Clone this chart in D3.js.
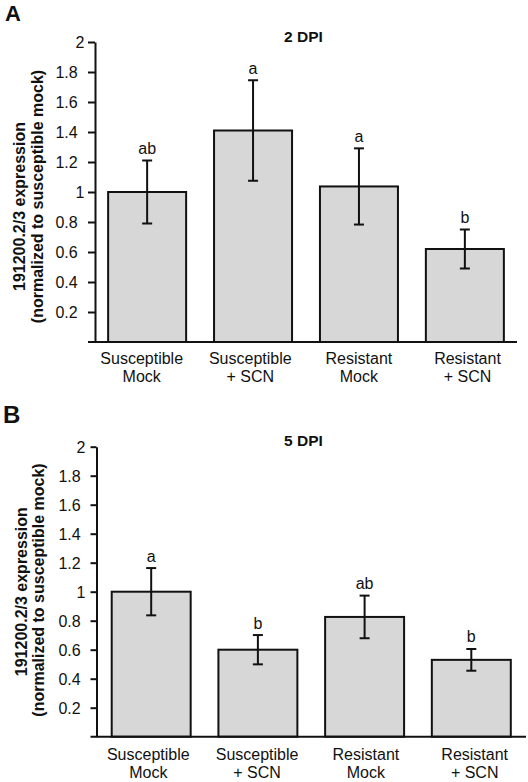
<!DOCTYPE html>
<html>
<head>
<meta charset="utf-8">
<script src="https://cdn.jsdelivr.net/npm/d3@7"></script>
<style>
  html, body { margin: 0; padding: 0; background: #fff; }
  svg { display: block; }
  text { font-family: "Liberation Sans", Arial, Helvetica, sans-serif; fill: #111; }
</style>
</head>
<body>
<script>
// ---------------- data ----------------
const categories = ["Susceptible Mock", "Susceptible + SCN", "Resistant Mock", "Resistant + SCN"];
const categoryLine1 = ["Susceptible", "Susceptible", "Resistant", "Resistant"];
const categoryLine2 = ["Mock", "+ SCN", "Mock", "+ SCN"];

const yTickValues = [0.2, 0.4, 0.6, 0.8, 1, 1.2, 1.4, 1.6, 1.8, 2];
const yTickLabels = ["0.2", "0.4", "0.6", "0.8", "1", "1.2", "1.4", "1.6", "1.8", "2"];

const yLabelLine1 = "191200.2/3 expression";
const yLabelLine2 = "(normalized to susceptible mock)";

const means2dpi = [1.0, 1.41, 1.037, 0.62];
const errors2dpi = [0.21, 0.335, 0.254, 0.13];
const letters2dpi = ["ab", "a", "a", "b"];

const means5dpi = [1.0, 0.6, 0.826, 0.53];
const errors5dpi = [0.163, 0.101, 0.147, 0.075];
const letters5dpi = ["a", "b", "ab", "b"];

// ---------------- layout ----------------
const panels = [
  {
    tag: "A", title: "2 DPI", means: means2dpi, errors: errors2dpi, letters: letters2dpi,
    tagX: 5, tagY: 21, tagSize: 22,
    axisX: 95, yTop: 42, yBase: 342, xEnd: 517, tick: 7,
    padIn: 0.2635, padOut: 0.124,
    labelRange: [141.7, 467.5], label1Dy: 22, label2Dy: 40,
    decEnd: 77.7, intEnd: 84.3,
    titleX: 303.5, titleY: 42,
    yl1X: 25, yl1Y: 206.5, yl2X: 42.5, yl2Y: 196.5
  },
  {
    tag: "B", title: "5 DPI", means: means5dpi, errors: errors5dpi, letters: letters5dpi,
    tagX: 3, tagY: 423, tagSize: 24,
    axisX: 96.5, yTop: 446.7, yBase: 736.7, xEnd: 526, tick: 6,
    padIn: 0.26, padOut: 0.1425,
    labelRange: [148.3, 474.7], label1Dy: 23.5, label2Dy: 41.5,
    decEnd: 80.7, intEnd: 85.5,
    titleX: 303.5, titleY: 446,
    yl1X: 26.5, yl1Y: 591.7, yl2X: 44, yl2Y: 590
  }
];

const W = 528, H = 782;
const svg = d3.select("body").append("svg").attr("width", W).attr("height", H);
svg.append("rect").attr("width", W).attr("height", H).attr("fill", "#fff");

panels.forEach(p => {
  const g = svg.append("g");
  const y = d3.scaleLinear().domain([0, 2]).range([p.yBase, p.yTop]);
  const x = d3.scaleBand().domain(categories).range([p.axisX, p.xEnd])
    .paddingInner(p.padIn).paddingOuter(p.padOut);
  const xl = d3.scalePoint().domain(categories).range(p.labelRange);
  const bw = x.bandwidth();
  const rows = categories.map((c, i) => ({ c, m: p.means[i], e: p.errors[i], l: p.letters[i], i }));

  // bars
  g.selectAll("rect.bar").data(rows).join("rect")
    .attr("class", "bar")
    .attr("x", d => x(d.c))
    .attr("y", d => y(d.m))
    .attr("width", bw)
    .attr("height", d => y(0) - y(d.m))
    .attr("fill", "#d7d7d7")
    .attr("stroke", "#111")
    .attr("stroke-width", 2);

  // error bars
  const eb = g.selectAll("g.err").data(rows).join("g").attr("class", "err")
    .attr("stroke", "#111").attr("stroke-width", 2);
  eb.append("line")
    .attr("x1", d => x(d.c) + bw / 2).attr("x2", d => x(d.c) + bw / 2)
    .attr("y1", d => y(d.m + d.e)).attr("y2", d => y(d.m - d.e));
  eb.append("line")
    .attr("x1", d => x(d.c) + bw / 2 - 5).attr("x2", d => x(d.c) + bw / 2 + 5)
    .attr("y1", d => y(d.m + d.e)).attr("y2", d => y(d.m + d.e));
  eb.append("line")
    .attr("x1", d => x(d.c) + bw / 2 - 5).attr("x2", d => x(d.c) + bw / 2 + 5)
    .attr("y1", d => y(d.m - d.e)).attr("y2", d => y(d.m - d.e));

  // significance letters
  g.selectAll("text.sig").data(rows).join("text")
    .attr("class", "sig")
    .attr("x", d => x(d.c) + bw / 2)
    .attr("y", d => y(d.m + d.e) - 6.5)
    .attr("text-anchor", "middle")
    .attr("font-size", 16)
    .text(d => d.l);

  // y axis
  const ax = g.append("g").attr("transform", `translate(${p.axisX},0)`)
    .call(d3.axisLeft(y).tickValues(yTickValues)
      .tickFormat((d, i) => yTickLabels[i])
      .tickSize(p.tick).tickSizeOuter(0));
  ax.select(".domain").attr("stroke", "#111").attr("stroke-width", 2);
  ax.selectAll(".tick line").attr("stroke", "#111").attr("stroke-width", 2);
  ax.selectAll(".tick text")
    .attr("font-size", 16)
    .attr("font-family", "Liberation Sans, Arial, Helvetica, sans-serif")
    .attr("fill", "#111")
    .attr("dy", "0.36em")
    .attr("x", (d, i) => (Number.isInteger(d) ? p.intEnd : p.decEnd) - p.axisX);

  // baseline
  g.append("line")
    .attr("x1", p.axisX - p.tick).attr("x2", p.xEnd)
    .attr("y1", y(0)).attr("y2", y(0))
    .attr("stroke", "#111").attr("stroke-width", 2);

  // category labels
  const lab = g.selectAll("g.cat").data(rows).join("g").attr("class", "cat");
  lab.append("text")
    .attr("x", d => xl(d.c)).attr("y", y(0) + p.label1Dy)
    .attr("text-anchor", "middle").attr("font-size", 16)
    .text(d => categoryLine1[d.i]);
  lab.append("text")
    .attr("x", d => xl(d.c)).attr("y", y(0) + p.label2Dy)
    .attr("text-anchor", "middle").attr("font-size", 16)
    .text(d => categoryLine2[d.i]);

  // title
  g.append("text").attr("x", p.titleX).attr("y", p.titleY)
    .attr("text-anchor", "middle").attr("font-size", 15.5).attr("font-weight", "bold")
    .text(p.title);

  // panel tag
  g.append("text").attr("x", p.tagX).attr("y", p.tagY)
    .attr("font-size", p.tagSize).attr("font-weight", "bold")
    .text(p.tag);

  // y label
  g.append("text")
    .attr("transform", `translate(${p.yl1X},${p.yl1Y}) rotate(-90)`)
    .attr("text-anchor", "middle").attr("font-size", 16).attr("font-weight", "bold")
    .text(yLabelLine1);
  g.append("text")
    .attr("transform", `translate(${p.yl2X},${p.yl2Y}) rotate(-90)`)
    .attr("text-anchor", "middle").attr("font-size", 16).attr("font-weight", "bold")
    .text(yLabelLine2);
});
</script>
</body>
</html>
